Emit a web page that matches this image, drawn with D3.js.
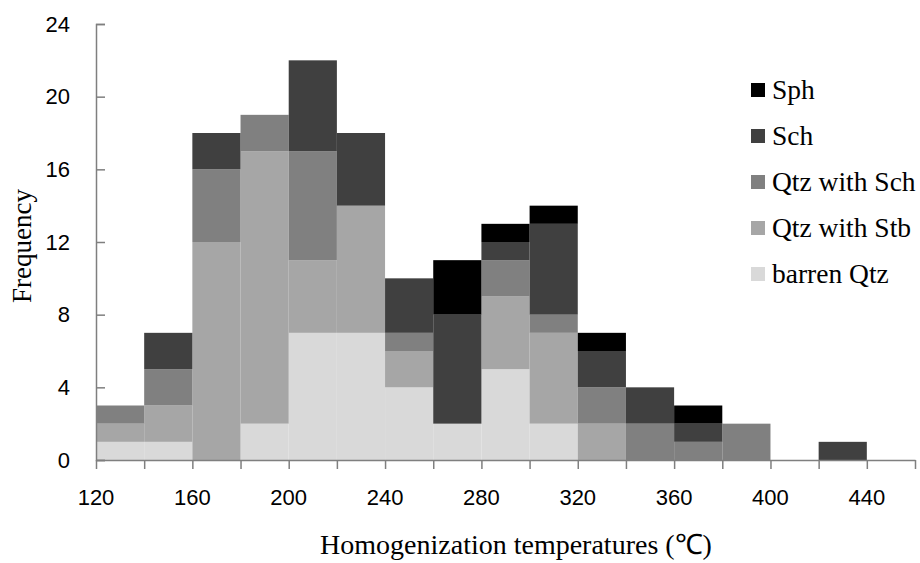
<!DOCTYPE html>
<html><head><meta charset="utf-8">
<script src="https://cdn.jsdelivr.net/npm/d3@7/dist/d3.min.js"></script>
<style>body{margin:0;background:#fff}svg{display:block}</style>
</head><body>
<svg id="chart" width="920" height="563"></svg>
<script>
// Bin lower edges (width 20 °C)
const binStarts = [120,140,160,180,200,220,240,260,280,300,320,340,360,380,400,420];
const binWidth = 20;
const seriesNames = ["barren Qtz","Qtz with Stb","Qtz with Sch","Sch","Sph"];
const barrenQtz = [1,1,0,2,7,7,4,2,5,2,0,0,0,0,0,0];
const qtzStb    = [1,2,12,15,4,7,2,0,4,5,2,0,0,0,0,0];
const qtzSch    = [1,2,4,2,6,0,1,0,2,1,2,2,1,2,0,0];
const sch       = [0,2,2,0,5,4,3,6,1,5,2,2,1,0,0,1];
const sph       = [0,0,0,0,0,0,0,3,1,1,1,0,1,0,0,0];
const colors = ["#d9d9d9","#a6a6a6","#808080","#404040","#000000"];
const yTicks = [0,4,8,12,16,20,24];
const xLabelTicks = [120,160,200,240,280,320,360,400,440];
const xMinorTicks = d3.range(120,461,20);

const svg = d3.select("#chart");
const x = d3.scaleLinear().domain([120,460]).range([96,915]);
const y = d3.scaleLinear().domain([0,24]).range([460,24]);

const rows = binStarts.map((b,i)=>({bin:b,"barren Qtz":barrenQtz[i],"Qtz with Stb":qtzStb[i],"Qtz with Sch":qtzSch[i],"Sch":sch[i],"Sph":sph[i]}));
const stacked = d3.stack().keys(seriesNames)(rows);

svg.append("g").selectAll("g").data(stacked).join("g")
  .attr("fill",(d,i)=>colors[i])
  .selectAll("rect").data(d=>d.filter(p=>p[1]>p[0])).join("rect")
  .attr("x",d=>x(d.data.bin))
  .attr("width",d=>x(d.data.bin+binWidth)-x(d.data.bin))
  .attr("y",d=>y(d[1]))
  .attr("height",d=>y(d[0])-y(d[1]));

// axes
const axisColor = "#7f7f7f";
const gy = svg.append("g").attr("transform","translate(96,0)")
  .call(d3.axisRight(y).tickValues(yTicks).tickSize(9).tickFormat(""));
gy.select(".domain").attr("stroke",axisColor).attr("stroke-width",1.5);
gy.selectAll(".tick line").attr("stroke",axisColor).attr("stroke-width",1.5);
svg.append("g").selectAll("text").data(yTicks).join("text")
  .attr("x",70).attr("y",d=>y(d)).attr("dy","0.35em").attr("text-anchor","end")
  .attr("font-family","Liberation Sans, Arial, sans-serif").attr("font-size",22).attr("fill","#000")
  .text(d=>d);

const gx = svg.append("g").attr("transform","translate(0,460)")
  .call(d3.axisBottom(x).tickValues(xMinorTicks).tickSize(9).tickSizeOuter(0).tickFormat(""));
gx.select(".domain").attr("stroke",axisColor).attr("stroke-width",1.5);
gx.selectAll(".tick line").attr("stroke",axisColor).attr("stroke-width",1.5);
svg.append("g").selectAll("text").data(xLabelTicks).join("text")
  .attr("x",d=>x(d)).attr("y",497).attr("dy","0.35em").attr("text-anchor","middle")
  .attr("font-family","Liberation Sans, Arial, sans-serif").attr("font-size",22).attr("fill","#000")
  .text(d=>d);

// titles
svg.append("text").attr("x",516).attr("y",554).attr("text-anchor","middle")
  .attr("font-family","Liberation Serif, Times New Roman, serif").attr("font-size",28).attr("fill","#000")
  .text("Homogenization temperatures (℃)");
svg.append("text").attr("transform","translate(31,246) rotate(-90)").attr("text-anchor","middle")
  .attr("font-family","Liberation Serif, Times New Roman, serif").attr("font-size",27).attr("fill","#000")
  .text("Frequency");

// legend (top to bottom: Sph ... barren Qtz)
const legendOrder = seriesNames.map((n,i)=>({name:n,color:colors[i]})).reverse();
const lg = svg.append("g").selectAll("g").data(legendOrder).join("g")
  .attr("transform",(d,i)=>`translate(751,${90+i*46})`);
lg.append("rect").attr("x",0).attr("y",-7).attr("width",14).attr("height",14).attr("fill",d=>d.color);
lg.append("text").attr("x",21).attr("y",0).attr("dy","0.33em")
  .attr("font-family","Liberation Serif, Times New Roman, serif").attr("font-size",27.5).attr("fill","#000")
  .text(d=>d.name);
</script>
</body></html>
